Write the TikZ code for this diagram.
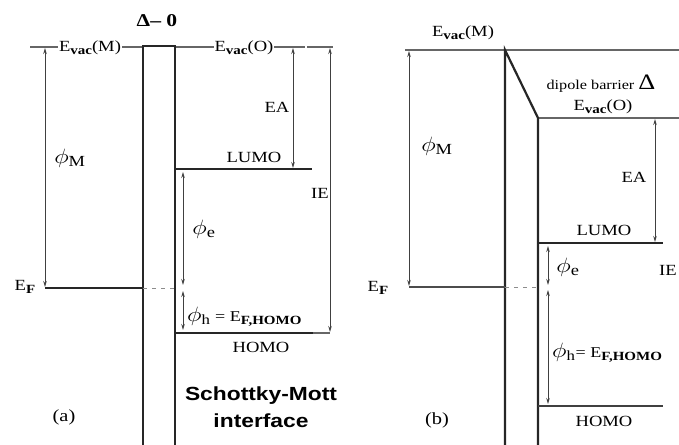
\documentclass[tikz,border=0pt]{standalone}
\usepackage{fontspec}
\usepackage{graphicx}
\setmainfont{Liberation Serif}
\newfontfamily\sansbold{Liberation Sans}
\usetikzlibrary{arrows.meta}
\newcommand{\lsub}[1]{\raisebox{-0.45ex}{\fontsize{12.5}{12.5}\selectfont\bfseries #1}}
\newcommand{\hs}[1]{\scalebox{1.2}[1]{#1}}
\begin{document}
\begin{tikzpicture}[x=1pt,y=-1pt,
  lvl/.style={line width=2.2pt, black!85},
  barr/.style={line width=2.2pt, black!85},
  thinl/.style={line width=1.1pt, black!60},
  dashl/.style={line width=1pt, black!45, dash pattern=on 4pt off 5pt},
  dim/.style={line width=0.9pt, black!75, shorten <=1pt, shorten >=1pt,
    {Stealth[length=6pt,width=3.5pt]}-{Stealth[length=6pt,width=3.5pt]}},
  lab/.style={font=\fontsize{15.5}{15.5}\selectfont, inner sep=1pt},
  phil/.style={font=\fontsize{22}{22}\selectfont, inner sep=1pt},
  sm/.style={font=\sansbold\bfseries\fontsize{19}{19}\selectfont, inner sep=1pt}]
\useasboundingbox (0,0) rectangle (679,444);
\clip (0,0) rectangle (679,444);

% ---------------- panel (a) ----------------
\coordinate (aVL) at (30,47);
\coordinate (aBL) at (143,46);
\coordinate (aBR) at (175,46);
\coordinate (aBLb) at (143,450);
\coordinate (aBRb) at (175,450);
\coordinate (aVR1) at (305,47);
\coordinate (aVR2) at (307,47);
\coordinate (aVR3) at (333,47);
\draw[thinl] (aVL) -- (aBL |- aVL);
\draw[thinl] (aBR |- aVL) -- (aVR1);
\draw[thinl] (aVR2) -- (aVR3);
\node[lab, fill=white] (evm) at (90,48) {\hs{E\lsub{vac}(M)}};
\node[lab, fill=white] (evo) at (244,48) {\hs{E\lsub{vac}(O)}};
\node[font=\bfseries\fontsize{18}{18}\selectfont] (delta0) at (157,21) {\hs{Δ– 0}};
\draw[barr] (aBLb) -- (aBL) -- (aBR) -- (aBRb);

\coordinate (aPMt) at (45,47);
\coordinate (aPMb) at (45,288);
\coordinate (aEFr) at (143,288);
\draw[dim] (aPMt) -- (aPMb);
\draw[lvl] (aPMb) -- (aEFr);
\draw[dashl] (aEFr) -- (175,288);
\node[lab] (aEF) at (25,287) {\hs{E\lsub{F}}};
\node[phil] (aphiM) at (70,158) {\hs{$\phi_{\mathrm M}$}};

\coordinate (aLUl) at (175,169);
\coordinate (aLUr) at (312,169);
\draw[lvl] (aLUl) -- (aLUr);
\node[lab] (aLUMO) at (254,157) {\hs{LUMO}};
\coordinate (aEAt) at (293,47);
\coordinate (aEAb) at (293,169);
\draw[dim] (aEAt) -- (aEAb);
\node[lab] (aEA) at (277,107) {\hs{EA}};

\coordinate (aHOl) at (175,333);
\coordinate (aHOm) at (313,333);
\coordinate (aHOr) at (330,333);
\draw[lvl] (aHOl) -- (aHOm);
\draw[thinl] (aHOm) -- (aHOr);
\node[lab] (aHOMO) at (261,347) {\hs{HOMO}};
\coordinate (aIEt) at (330,47);
\draw[dim] (aIEt) -- (aHOr);
\node[lab] (aIE) at (320,193) {\hs{IE}};

\coordinate (aPEt) at (183,171);
\coordinate (aPEb) at (183,286);
\draw[dim] (aPEt) -- (aPEb);
\node[phil] (aphie) at (204,229) {\hs{$\phi_{\mathrm e}$}};
\coordinate (aPHt) at (183,290);
\coordinate (aPHb) at (183,331);
\draw[dim] (aPHt) -- (aPHb);
\node[lab, anchor=west] (aphih) at (186,317) {\hs{\fontsize{20}{20}\selectfont$\phi_{\mathrm h}$\fontsize{15}{15}\selectfont\ = E\lsub{F,HOMO}}};

\node[sm] (sm1) at (261,396) {\hs{Schottky-Mott}};
\node[sm] (sm2) at (261,421) {\hs{interface}};
\node[lab, font=\fontsize{17}{17}\selectfont] (la) at (64,417) {\hs{(a)}};

% ---------------- panel (b) ----------------
\coordinate (bVL) at (405,50);
\coordinate (bVR) at (679,50);
\coordinate (bBL) at (505,50);
\coordinate (bBLb) at (505,450);
\coordinate (bBR) at (538,118);
\coordinate (bBRb) at (538,450);
\coordinate (bVOr) at (679,118);
\draw[thinl] (bVL) -- (bVR);
\draw[thinl] (bBR) -- (bVOr);
\draw[barr] (bBLb) -- (bBL) -- (bBR) -- (bBRb);
\node[lab] (bevm) at (463,33) {\hs{E\lsub{vac}(M)}};
\node[lab] (bevo) at (603,107) {\hs{E\lsub{vac}(O)}};
\node[lab, anchor=base] (dip) at (601,89) {\hs{\fontsize{13.5}{13.5}\selectfont dipole barrier\ \fontsize{22}{22}\selectfont Δ}};

\coordinate (bPMt) at (409,50);
\coordinate (bPMb) at (409,287);
\coordinate (bEFr) at (505,287);
\draw[dim] (bPMt) -- (bPMb);
\draw[lvl, line width=2pt, black!70] (bPMb) -- (bEFr);
\draw[dashl] (bEFr) -- (538,287);
\node[lab] (bEF) at (378,288) {\hs{E\lsub{F}}};
\node[phil] (bphiM) at (437,146) {\hs{$\phi_{\mathrm M}$}};

\coordinate (bLUl) at (538,243);
\coordinate (bLUr) at (663,243);
\draw[lvl] (bLUl) -- (bLUr);
\node[lab] (bLUMO) at (604,230) {\hs{LUMO}};
\coordinate (bEAt) at (655,118);
\coordinate (bEAb) at (655,243);
\draw[dim] (bEAt) -- (bEAb);
\node[lab] (bEA) at (634,177) {\hs{EA}};
\node[lab] (bIE) at (668,270) {\hs{IE}};

\coordinate (bHOl) at (538,406);
\coordinate (bHOr) at (663,406);
\draw[lvl, line width=1.8pt, black!75] (bHOl) -- (bHOr);
\node[lab] (bHOMO) at (604,421) {\hs{HOMO}};

\coordinate (bPEt) at (548,245);
\coordinate (bPEb) at (548,286);
\draw[dim] (bPEt) -- (bPEb);
\node[phil] (bphie) at (568,267) {\hs{$\phi_{\mathrm e}$}};
\coordinate (bPHt) at (548,289);
\coordinate (bPHb) at (548,405);
\draw[dim] (bPHt) -- (bPHb);
\node[lab, anchor=west] (bphih) at (551,353) {\hs{\fontsize{20}{20}\selectfont$\phi_{\mathrm h}$\fontsize{15}{15}\selectfont= E\lsub{F,HOMO}}};

\node[lab, font=\fontsize{17}{17}\selectfont] (lb) at (437,420) {\hs{(b)}};
\end{tikzpicture}
\end{document}
